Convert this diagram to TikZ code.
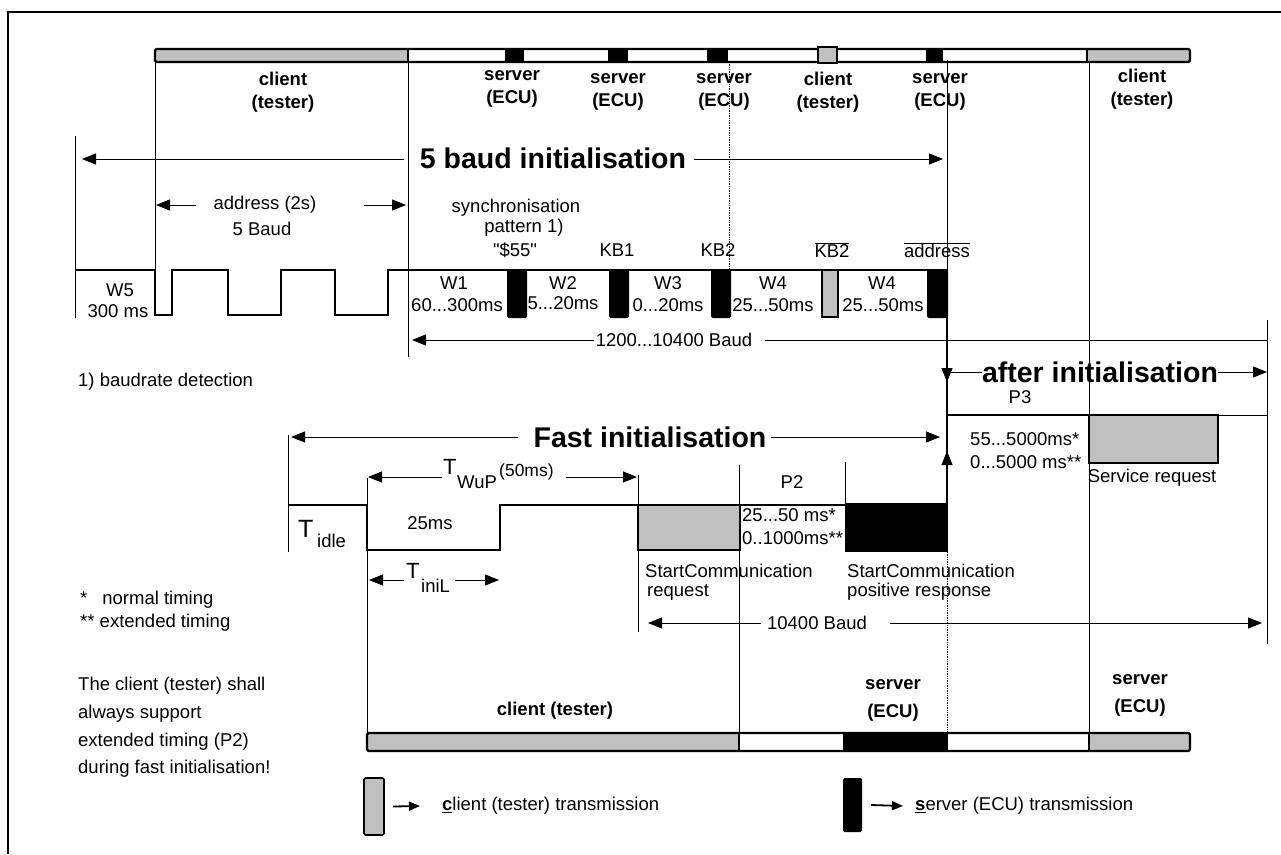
\documentclass[tikz,border=0pt]{standalone}
\usepackage{fontspec}
\setmainfont{Liberation Sans}
\newfontfamily\qfont{Liberation Sans}
\usetikzlibrary{arrows.meta,positioning,calc}
\definecolor{txgray}{RGB}{192,192,192}

\begin{document}
\begin{tikzpicture}[x=1pt, y=-1pt,
  every node/.style={font=\fontsize{18.5}{23}\selectfont, inner sep=0pt},
  lbl/.style={font=\bfseries\fontsize{18.5}{23.5}\selectfont, align=center},
  bigtitle/.style={font=\bfseries\fontsize{28.5}{30}\selectfont},
  bigT/.style={anchor=base west, font=\fontsize{22}{24}\selectfont},
  arr/.style={line width=0.9pt, -{Triangle[length=14pt,width=11pt]}},
  legarr/.style={line width=1.8pt, -{Triangle[length=11pt,width=9pt]}},
  thinln/.style={line width=0.9pt},
  dotln/.style={line width=0.7pt, densely dotted},
  wave/.style={line width=2.6pt}]
  \useasboundingbox (0,0) rectangle (1281,854);
  \draw[line width=2.4pt] (1281,12) -- (8,12) -- (8,854);

  % top bar (5 baud)
  \fill[txgray] (155,49) rectangle (408,62);
  \fill[txgray] (1087,49) rectangle (1190,62);
  \foreach \a/\b in {505/524,608/628,707/728,926/943} \fill (\a,48) rectangle (\b,63);
  \draw[line width=2.4pt, rounded corners=1.5pt] (155,49) rectangle (1190,62);
  \draw[line width=1.5pt] (408,49) -- (408,62) (1087,49) -- (1087,62);
  \draw[line width=1.6pt, fill=txgray] (818,47) rectangle (837,63);

  \node[lbl] (cl1) at (283,92) {client\\(tester)};
  \node[lbl] (sv1) at (512,89) {server\\(ECU)};
  \node[lbl] (sv2) at (618,92) {server\\(ECU)};
  \node[lbl] (sv3) at (724,92) {server\\(ECU)};
  \node[lbl] (cl2) at (828,92) {client\\(tester)};
  \node[lbl] (sv4) at (940,92) {server\\(ECU)};
  \node[lbl] (cl3) at (1142,89) {client\\(tester)};

  % vertical guides
  \draw[thinln] (155,62) -- (155,270) (408,62) -- (408,357) (947,60) -- (947,270)
    (1089,62) -- (1089,733) (75,136) -- (75,318) (1267,320) -- (1267,644);
  \draw[thinln] (288,435) -- (288,552) (367,478) -- (367,733) (638,475) -- (638,632)
    (739,465) -- (739,733) (845,462) -- (845,503);
  \draw[dotln] (729,62) -- (729,270) (947,552) -- (947,733);

  % 5 baud waveform
  \draw[wave] (75,270) -- (155,270) -- (155,315) -- (172,315) -- (172,270) -- (228,270) -- (228,315)
    -- (281,315) -- (281,270) -- (335,270) -- (335,315) -- (388,315) -- (388,270) -- (948,270);
  \foreach \a/\b in {507/527,609/629,711/731,927/948} \fill[rounded corners=1.5pt] (\a,269) rectangle (\b,318);
  \draw[line width=1.6pt, fill=txgray] (822,270) rectangle (838,317);
  \draw[wave] (947,317) -- (947,503);

  \node (w5) at (120,290) {W5};
  \node (w5t) at (118,311) {300 ms};
  \node (w1) at (454,283) {W1};
  \node (w1t) at (457,305) {60...300ms};
  \node (w2) at (563,283) {W2};
  \node (w2t) at (563,303) {5...20ms};
  \node (w3) at (668,283) {W3};
  \node (w3t) at (668,305) {0...20ms};
  \node (w4) at (773,283) {W4};
  \node (w4t) at (773,305) {25...50ms};
  \node (w4b) at (882,283) {W4};
  \node (w4bt) at (883,305) {25...50ms};

  \node (sync) at (516,208) {synchronisation};
  \node (patt) at (524,228) {pattern 1)};
  \node (s55) at (515,250) {{\qfont"}\$55{\qfont"}};
  \node (kb1) at (617,250) {KB1};
  \node (kb2) at (718,250) {KB2};
  \node (kb2n) at (832,250) {$\overline{\mbox{KB2}}$};
  \node (addrn) at (937,250) {$\overline{\mbox{address}}$};

  % 5 baud arrows
  \coordinate (fbL) at (82,159);
  \coordinate (fbR) at (943,159);
  \coordinate (adL) at (156,205);
  \coordinate (adR) at (406,205);
  \coordinate (b1L) at (412,340);
  \coordinate (b1R) at (1267,340);
  \node[bigtitle] (fb) at (553,158) {5 baud initialisation};
  \draw[arr] ([xshift=-16pt]fb.west |- fbL) -- (fbL);
  \draw[arr] ([xshift=8pt]fb.east |- fbR) -- (fbR);
  \node (ad) at (265,205) {address (2s)};
  \node (adb) at (262,229) {5 Baud};
  \draw[arr] ([xshift=-17pt]ad.west |- adL) -- (adL);
  \draw[arr] ([xshift=47pt]ad.east |- adR) -- (adR);
  \node (b1) at (674,340) {1200...10400 Baud};
  \draw[arr] ([xshift=-2pt]b1.west) -- (b1L);
  \draw[thinln] ([xshift=13pt]b1.east) -- (b1R);

  % after initialisation
  \draw[wave] (947,503) -- (947,415) -- (1089,415);
  \draw[wave, fill=txgray] (1089,415) rectangle (1218,463);
  \draw[thinln] (1218,415) -- (1267,415);
  \draw[arr] (947,355) -- (947,382);
  \draw[arr] (947,470) -- (947,451);
  \coordinate (aiL) at (947,372);
  \coordinate (aiR) at (1267,372);
  \node[bigtitle] (ai) at (1100,372) {after initialisation};
  \draw[thinln] (ai.west) -- (aiL);
  \draw[arr] (ai.east) -- (aiR);
  \node (p3) at (1020,397) {P3};
  \node[anchor=west] (p3a) at (970,439) {55...5000ms*};
  \node[anchor=west] (p3b) at (970,462) {0...5000 ms**};
  \node (srq) at (1152,478) {Service request};

  % fast initialisation
  \draw[wave] (288,505) -- (367,505) -- (367,550) -- (500,550) -- (500,505) -- (845,505);
  \draw[wave, fill=txgray] (638,505) rectangle (740,550);
  \fill (845,503) rectangle (948,552);

  \coordinate (fiL) at (291,437);
  \coordinate (fiR) at (940,437);
  \coordinate (wuL) at (368,477);
  \coordinate (wuR) at (637,477);
  \coordinate (inL) at (369,580);
  \coordinate (inR) at (499,580);
  \coordinate (b2L) at (648,623);
  \coordinate (b2R) at (1262,623);
  \node[bigtitle] (fi) at (650,437) {Fast initialisation};
  \draw[arr] ([xshift=-15pt]fi.west) -- (fiL);
  \draw[arr] ([xshift=4pt]fi.east) -- (fiR);

  \node[bigT, font=\fontsize{25}{27}\selectfont] (tid) at (298,537) {T};
  \node[anchor=base west] (tids) at (317,547) {idle};
  \node (t25) at (430,523) {25ms};
  \node[bigT] (twu) at (443,474) {T};
  \node[anchor=base west] (twus) at (457,488) {WuP};
  \node[anchor=base west, font=\fontsize{17.5}{20}\selectfont] (twup) at (499,476) {(50ms)};
  \draw[arr] ([xshift=-1pt,yshift=-3pt]twu.base west) -- (wuL);
  \draw[arr] ([xshift=12pt,yshift=-1pt]twup.base east) -- (wuR);
  \node[bigT] (tin) at (406,578) {T};
  \node[anchor=base west] (tins) at (421,592) {iniL};
  \draw[arr] ([xshift=-2pt,yshift=-2pt]tin.base west) -- (inL);
  \draw[arr] ([xshift=5pt,yshift=12pt]tins.base east) -- (inR);

  \node (p2) at (792,482) {P2};
  \node[anchor=west] (p2a) at (742,515) {25...50 ms*};
  \node[anchor=west] (p2b) at (742,538) {0..1000ms**};
  \node[anchor=west] (scr) at (645,571) {StartCommunication};
  \node[anchor=west] (scrb) at (647,592) {request};
  \node[anchor=west] (scp) at (847,571) {StartCommunication};
  \node[anchor=west] (scpb) at (847,592) {positive response};
  \node (b2) at (817,623) {10400 Baud};
  \draw[arr] ([xshift=-6pt]b2.west) -- (b2L);
  \draw[arr] ([xshift=23pt]b2.east) -- (b2R);

  % bottom bar
  \fill[txgray] (367,733) rectangle (739,751);
  \fill[txgray] (1089,733) rectangle (1190,751);
  \fill (843,733) rectangle (948,751);
  \draw[line width=2.4pt, rounded corners=1.5pt] (367,733) rectangle (1190,751);
  \draw[line width=1.5pt] (739,733) -- (739,751) (1089,733) -- (1089,751);
  \node[lbl] (clb) at (555,711) {client (tester)};
  \node[lbl, font=\bfseries\fontsize{18.5}{28}\selectfont] (svb1) at (893,700) {server\\(ECU)};
  \node[lbl, font=\bfseries\fontsize{18.5}{28}\selectfont] (svb2) at (1140,695) {server\\(ECU)};

  % notes
  \node[anchor=west] (nbaud) at (78,382) {1) baudrate detection};
  \node[anchor=base west] (nnorm) at (80,604) {*\hspace{15pt}normal timing};
  \node[anchor=base west] (next) at (80,627) {** extended timing};
  \foreach \t [count=\i] in {The client (tester) shall, always support, extended timing (P2), during fast initialisation!}
    \node[anchor=base west] (note\i) at (78,{663+27.7*\i}) {\t};

  % legend
  \node[draw, line width=1.6pt, fill=txgray, rounded corners=1.5pt, minimum width=20pt, minimum height=57pt] (lgcb) at (374,806.5) {};
  \node[anchor=west] (lgc) at (442,806) {\underline{\textbf{c}}lient (tester) transmission};
  \draw[legarr] ([xshift=8pt]lgcb.east) -- ([xshift=-22pt]lgc.west);
  \node[fill=black, rounded corners=1.5pt, minimum width=19pt, minimum height=54pt] (lgsb) at (852.5,805) {};
  \node[anchor=west] (lgs) at (915,806) {\underline{\textbf{s}}erver (ECU) transmission};
  \draw[legarr] ([xshift=9pt]lgsb.east) -- ([xshift=-12pt]lgs.west);
\end{tikzpicture}
\end{document}
